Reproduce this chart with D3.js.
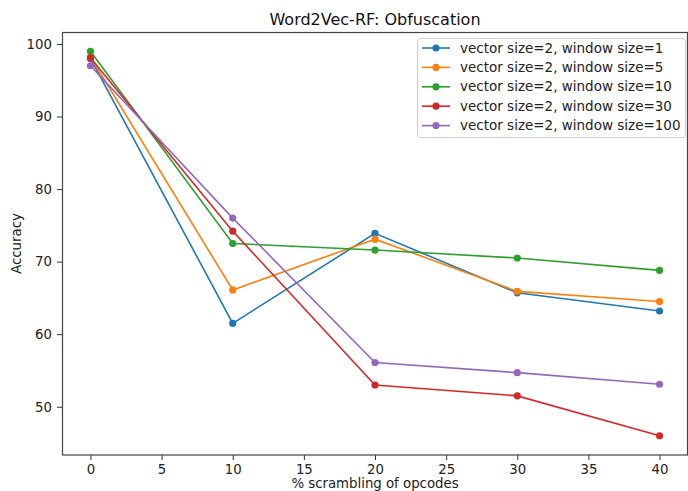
<!DOCTYPE html>
<html><head><meta charset="utf-8">
<script src="https://cdn.jsdelivr.net/npm/d3@7"></script>
<style>body{margin:0;background:#fff}svg{display:block;font-family:"DejaVu Sans",sans-serif}</style>
</head><body><svg id="c" width="688" height="491"></svg>
<script>
const xValues = [0, 10, 20, 30, 40];
const seriesNames = [
  "vector size=2, window size=1",
  "vector size=2, window size=5",
  "vector size=2, window size=10",
  "vector size=2, window size=30",
  "vector size=2, window size=100"
];
const win1 = [98.0, 61.5, 73.9, 65.7, 63.2];
const win5 = [98.2, 66.1, 73.1, 65.9, 64.5];
const win10 = [99.0, 72.5, 71.6, 70.5, 68.8];
const win30 = [98.1, 74.2, 53.0, 51.5, 46.0];
const win100 = [97.0, 76.0, 56.1, 54.7, 53.1];
const colors = ["#1f77b4", "#ff7f0e", "#2ca02c", "#d62728", "#9467bd"];
const xTicks = [0, 5, 10, 15, 20, 25, 30, 35, 40];
const yTicks = [50, 60, 70, 80, 90, 100];
const title = "Word2Vec-RF: Obfuscation";
const xLabel = "% scrambling of opcodes";
const yLabel = "Accuracy";

const series = [win1, win5, win10, win30, win100];
const svg = d3.select("#c");
const L = 62, R = 688, T = 32, B = 455;
const x = d3.scaleLinear().domain([-2, 42]).range([L, R]);
const y = d3.scaleLinear().domain([43.35, 101.65]).range([B, T]);

// axes
const xa = svg.append("g").attr("transform", `translate(0,${B})`)
  .call(d3.axisBottom(x).tickValues(xTicks).tickSize(5).tickPadding(5).tickSizeOuter(0));
const ya = svg.append("g").attr("transform", `translate(${L},0)`)
  .call(d3.axisLeft(y).tickValues(yTicks).tickSize(5).tickPadding(5).tickSizeOuter(0));
[xa, ya].forEach(a => {
  a.selectAll("text").attr("font-size", 13.3).attr("fill", "#222").attr("font-family", "DejaVu Sans");
  a.selectAll(".tick line").attr("stroke", "#333");
  a.select(".domain").remove();
});
// frame
svg.append("rect").attr("x", L + 0.5).attr("y", T + 0.5).attr("width", R - L - 1).attr("height", B - T - 0.5)
  .attr("fill", "none").attr("stroke", "#444").attr("stroke-width", 1.2);

// lines
const line = d3.line().x((d, i) => x(xValues[i])).y(d => y(d));
series.forEach((s, k) => {
  svg.append("path").datum(s).attr("d", line).attr("fill", "none")
    .attr("stroke", colors[k]).attr("stroke-width", 1.6);
  svg.append("g").selectAll("circle").data(s).join("circle")
    .attr("cx", (d, i) => x(xValues[i])).attr("cy", d => y(d)).attr("r", 3.6)
    .attr("fill", colors[k]);
});

// title & labels
svg.append("text").attr("x", (L + R) / 2).attr("y", 25).attr("text-anchor", "middle")
  .attr("font-size", 16).attr("fill", "#111").text(title);
svg.append("text").attr("x", (L + R) / 2).attr("y", 488).attr("text-anchor", "middle")
  .attr("font-size", 13.3).attr("fill", "#222").text(xLabel);
svg.append("text").attr("transform", `translate(21,${(T + B) / 2}) rotate(-90)`).attr("text-anchor", "middle")
  .attr("font-size", 13.3).attr("fill", "#222").text(yLabel);

// legend
const lg = svg.append("g").attr("transform", "translate(417,38)");
lg.append("rect").attr("x", 0.5).attr("y", 0.5).attr("width", 268).attr("height", 99).attr("rx", 3)
  .attr("fill", "#fff").attr("fill-opacity", 0.8).attr("stroke", "#ccc");
seriesNames.forEach((n, k) => {
  const yy = 10 + k * 19.4;
  lg.append("line").attr("x1", 5).attr("x2", 33).attr("y1", yy).attr("y2", yy)
    .attr("stroke", colors[k]).attr("stroke-width", 1.6);
  lg.append("circle").attr("cx", 19).attr("cy", yy).attr("r", 3.6).attr("fill", colors[k]);
  lg.append("text").attr("x", 43).attr("y", yy + 4.6).attr("font-size", 13.5).attr("fill", "#222").text(n);
});
</script></body></html>
